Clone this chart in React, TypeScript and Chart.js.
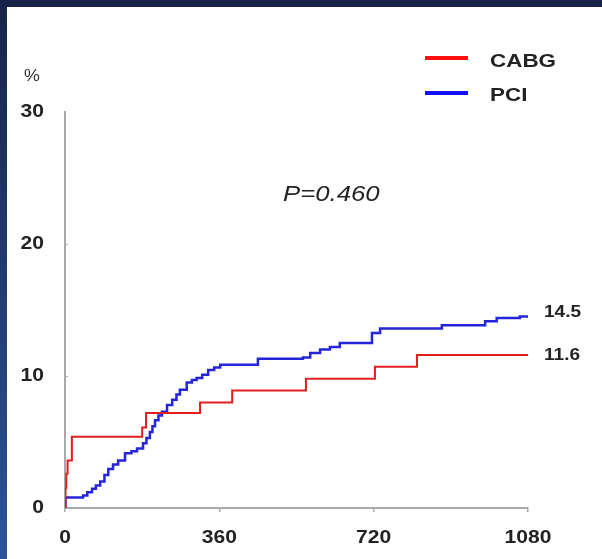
import { useEffect, useRef } from "react";
import { Chart, registerables } from "chart.js";

Chart.register(...registerables);

// Cumulative event rate (%) by days of follow-up
const cabgDays = [0, 1, 3, 6, 16, 180, 189, 315, 390, 562, 723, 821, 1080];
const cabgPct = [0, 1.5, 2.6, 3.6, 5.4, 6.1, 7.2, 8.0, 8.9, 9.8, 10.7, 11.6, 11.6];

const pciDays = [
  0, 1, 42, 52, 63, 72, 82, 92, 101, 112, 124, 140, 155, 168, 182, 190, 198, 204,
  210, 218, 226, 238, 250, 260, 268, 284, 296, 307, 320, 334, 348, 362, 450, 555,
  572, 595, 618, 641, 716, 735, 879, 980, 1007, 1061, 1080,
];
const pciPct = [
  0, 0.8, 0.95, 1.2, 1.45, 1.7, 2.0, 2.5, 2.95, 3.3, 3.6, 4.15, 4.3, 4.5, 4.9, 5.3,
  5.75, 6.2, 6.65, 7.0, 7.3, 7.8, 8.2, 8.6, 8.95, 9.5, 9.7, 9.85, 10.1, 10.45, 10.65,
  10.85, 11.3, 11.4, 11.75, 12.0, 12.2, 12.5, 13.25, 13.6, 13.85, 14.15, 14.4, 14.5,
  14.5,
];

const seriesNames = ["CABG", "PCI"];
const endLabels = ["11.6", "14.5"];
const pValueText = "P=0.460";
const yUnit = "%";

const xTickValues = [0, 360, 720, 1080];
const yTickValues = [0, 10, 20, 30];

const RED = "#e01e1e";
const BLUE = "#2424d8";
const LEGEND_RED = "#ff1010";
const LEGEND_BLUE = "#1010ff";
const TEXT = "#222222";
const AXIS = "#a9a9a9";
const FONT = "'Liberation Sans', Arial, sans-serif";
// the lettering of this figure is set slightly wide
const STRETCH = 1.17;

const toPoints = (xs: number[], ys: number[]) => xs.map((x, i) => ({ x, y: ys[i] }));

function wideText(
  ctx: CanvasRenderingContext2D,
  text: string,
  x: number,
  y: number,
  font: string,
  align: "left" | "center" | "right",
  color = TEXT,
  sx = STRETCH
) {
  ctx.save();
  ctx.font = font;
  ctx.fillStyle = color;
  ctx.textBaseline = "middle";
  ctx.textAlign = "left";
  const w = ctx.measureText(text).width * sx;
  let left = x;
  if (align === "center") left = x - w / 2;
  if (align === "right") left = x - w;
  ctx.translate(left, y);
  ctx.scale(sx, 1);
  ctx.fillText(text, 0, 0);
  ctx.restore();
}

const annotations = {
  id: "annotations",
  afterDatasetsDraw(chart: any) {
    const { ctx, scales } = chart;
    const xs = scales.x;
    const ys = scales.y;
    const bottom = ys.getPixelForValue(0);
    const left = xs.getPixelForValue(0);

    // tick labels
    const tickFont = `bold 18px ${FONT}`;
    xTickValues.forEach((v) => {
      wideText(ctx, String(v), xs.getPixelForValue(v), bottom + 30, tickFont, "center");
    });
    yTickValues.forEach((v) => {
      wideText(ctx, String(v), left - 21, ys.getPixelForValue(v), tickFont, "right");
    });

    // short y tick stubs
    ctx.save();
    ctx.strokeStyle = AXIS;
    ctx.lineWidth = 1;
    yTickValues.slice(1, -1).forEach((v) => {
      const py = Math.round(ys.getPixelForValue(v)) + 0.5;
      ctx.beginPath();
      ctx.moveTo(left, py);
      ctx.lineTo(left + 3, py);
      ctx.stroke();
    });
    ctx.restore();

    // unit label above the y axis
    wideText(ctx, yUnit, 17, 69, `17px ${FONT}`, "left", "#333333", 1.05);

    // legend
    const legendColors = [LEGEND_RED, LEGEND_BLUE];
    const legendLineY = [51, 86];
    const legendTextY = [55, 89];
    ctx.save();
    ctx.lineWidth = 4;
    ctx.lineCap = "butt";
    seriesNames.forEach((name, i) => {
      ctx.strokeStyle = legendColors[i];
      ctx.beginPath();
      ctx.moveTo(418, legendLineY[i]);
      ctx.lineTo(461, legendLineY[i]);
      ctx.stroke();
      wideText(ctx, name, 483, legendTextY[i], `bold 19px ${FONT}`, "left", TEXT, 1.18);
    });
    ctx.restore();

    // p-value
    wideText(ctx, pValueText, 276, 188, `italic 22px ${FONT}`, "left", TEXT, 1.17);

    // end-of-follow-up values
    const ends = [cabgPct[cabgPct.length - 1], pciPct[pciPct.length - 1]];
    ends.forEach((v, i) => {
      const px = xs.getPixelForValue(xTickValues[xTickValues.length - 1]) + 16;
      const offset = i === 0 ? 0 : -4;
      wideText(ctx, endLabels[i], px, ys.getPixelForValue(v) + offset, `bold 17px ${FONT}`, "left", TEXT, 1.12);
    });
  },
};

export default function App() {
  const canvasRef = useRef<HTMLCanvasElement | null>(null);

  useEffect(() => {
    document.body.style.margin = "0";
    const canvas = canvasRef.current;
    if (!canvas) return;
    const xMax = xTickValues[xTickValues.length - 1];
    const yMax = yTickValues[yTickValues.length - 1];
    const chart = new Chart(canvas, {
      type: "line",
      data: {
        datasets: [
          {
            label: seriesNames[0],
            data: toPoints(cabgDays, cabgPct),
            borderColor: RED,
            borderWidth: 2,
            stepped: true,
            pointRadius: 0,
            fill: false,
          },
          {
            label: seriesNames[1],
            data: toPoints(pciDays, pciPct),
            borderColor: BLUE,
            borderWidth: 2.5,
            stepped: true,
            pointRadius: 0,
            fill: false,
          },
        ],
      },
      options: {
        animation: false,
        responsive: false,
        maintainAspectRatio: false,
        layout: { padding: { top: 105, right: 74, bottom: 0, left: 0 } },
        plugins: {
          legend: { display: false },
          tooltip: { enabled: false },
          title: { display: false },
        },
        scales: {
          x: {
            type: "linear",
            min: 0,
            max: xMax,
            afterFit: (s: any) => {
              s.height = 51;
            },
            afterBuildTicks: (s: any) => {
              s.ticks = xTickValues.map((value) => ({ value }));
            },
            border: { display: true, color: AXIS, width: 2 },
            grid: {
              display: true,
              drawOnChartArea: false,
              drawTicks: true,
              tickLength: 4,
              color: AXIS,
              lineWidth: 1.5,
            },
            ticks: { display: false },
          },
          y: {
            type: "linear",
            min: 0,
            max: yMax,
            afterFit: (s: any) => {
              s.width = 58;
            },
            afterBuildTicks: (s: any) => {
              s.ticks = yTickValues.map((value) => ({ value }));
            },
            border: { display: true, color: AXIS, width: 2 },
            grid: { display: false, drawTicks: false },
            ticks: { display: false },
          },
        },
      },
      plugins: [annotations],
    });
    return () => chart.destroy();
  }, []);

  return (
    <div
      style={{
        position: "absolute",
        left: 0,
        top: 0,
        width: 602,
        height: 559,
        background: "#ffffff",
        overflow: "hidden",
      }}
    >
      <div
        style={{
          position: "absolute",
          left: 0,
          top: 0,
          width: 602,
          height: 7,
          background: "#172447",
        }}
      />
      <div
        style={{
          position: "absolute",
          left: 0,
          top: 0,
          width: 7,
          height: 559,
          background: "linear-gradient(#172447, #2e5397)",
        }}
      />
      <canvas
        ref={canvasRef}
        width={595}
        height={552}
        style={{ position: "absolute", left: 7, top: 7, display: "block" }}
      />
    </div>
  );
}
